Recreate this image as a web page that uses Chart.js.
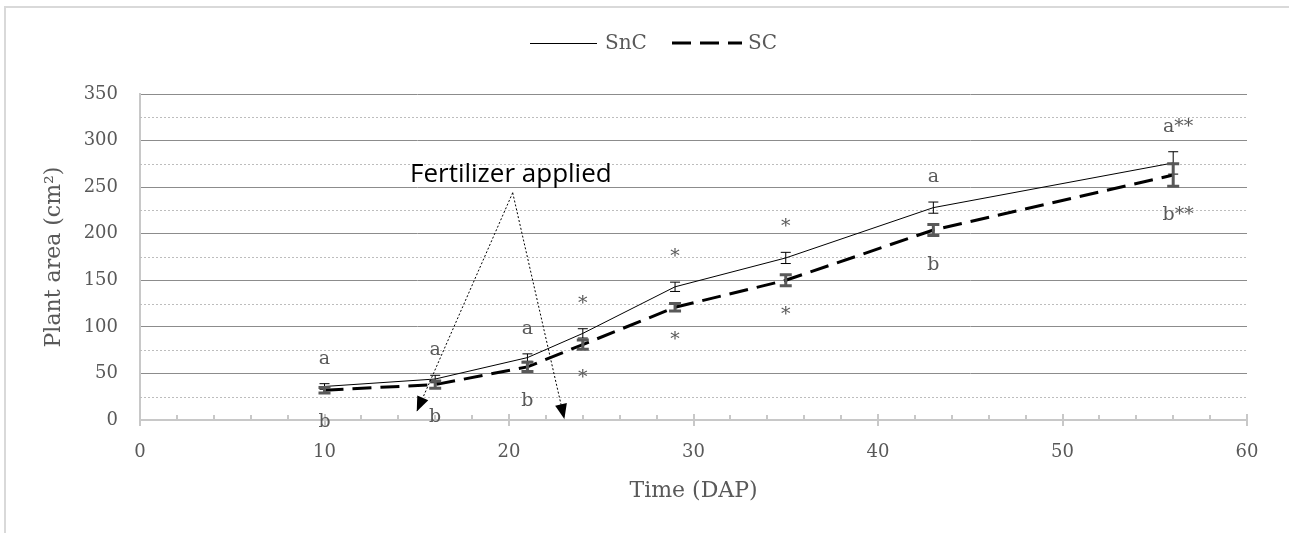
<!DOCTYPE html>
<html>
<head>
<meta charset="utf-8">
<script src="https://cdn.jsdelivr.net/npm/chart.js@4"></script>
<style>
html,body{margin:0;padding:0;background:#fff;overflow:hidden;}
#wrap{position:relative;width:1289px;height:533px;overflow:hidden;}
#frame{position:absolute;left:4px;top:6px;width:1300px;height:540px;border-left:2px solid #d9d9d9;border-top:2px solid #d9d9d9;}
canvas{position:absolute;left:0;top:0;}
</style>
</head>
<body>
<div id="wrap"><div id="frame"></div><canvas id="c" width="1289" height="533"></canvas></div>
<script>
// days after planting
const days = [10, 16, 21, 24, 29, 35, 43, 56];
const snc = [36, 44, 67, 93, 143, 174, 228, 276];
const sc = [32, 38, 57, 81, 121, 150, 204, 263];
const sncErr = [3, 4, 4, 5, 5, 6, 6, 12];
const scErr = [3, 4, 5, 5, 4, 6, 6, 12];
const upperLabels = ['a', 'a', 'a', '*', '*', '*', 'a', 'a**'];
const lowerLabels = ['b', 'b', 'b', '*', '*', '*', 'b', 'b**'];
const minorGrid = [25, 75, 125, 175, 225, 275, 325];

// fertilizer note: text spot, apex of the arrows, arrow tips (data units)
const fertText = 'Fertilizer applied';
const fertTextAt = [20.1, 263];
const fertApex = [20.2, 244];
const fertTips = [[15.0, 9], [23.0, 1]];

const serif = '"DejaVu Serif", Georgia, serif';
const grey = '#595959';

function arrowHead(ctx, x0, y0, x1, y1) {
  const ang = Math.atan2(y1 - y0, x1 - x0);
  const len = 15, half = 6;
  ctx.beginPath();
  ctx.moveTo(x1, y1);
  ctx.lineTo(x1 - len * Math.cos(ang) + half * Math.sin(ang), y1 - len * Math.sin(ang) - half * Math.cos(ang));
  ctx.lineTo(x1 - len * Math.cos(ang) - half * Math.sin(ang), y1 - len * Math.sin(ang) + half * Math.cos(ang));
  ctx.closePath();
  ctx.fill();
}

const extras = {
  id: 'extras',
  beforeDatasetsDraw(chart) {
    const {ctx, chartArea: a, scales: {x, y}} = chart;
    ctx.save();
    ctx.strokeStyle = '#bdbdbd';
    ctx.lineWidth = 1;
    ctx.setLineDash([2, 2]);
    minorGrid.forEach(v => {
      const py = Math.round(y.getPixelForValue(v)) + 0.5;
      ctx.beginPath(); ctx.moveTo(a.left, py); ctx.lineTo(a.right, py); ctx.stroke();
    });
    ctx.setLineDash([]);
    // x tick marks
    ctx.strokeStyle = '#c8c8c8';
    ctx.lineWidth = 2;
    for (let v = 0; v <= 60; v += 2) {
      const px = Math.round(x.getPixelForValue(v));
      ctx.beginPath();
      if (v % 10 === 0) { ctx.moveTo(px, a.bottom - 6); ctx.lineTo(px, a.bottom + 6); }
      else { ctx.moveTo(px, a.bottom - 5); ctx.lineTo(px, a.bottom); }
      ctx.stroke();
    }
    ctx.restore();
  },
  afterDatasetsDraw(chart) {
    const {ctx, scales: {x, y}} = chart;
    ctx.save();
    // error bars
    days.forEach((d, i) => {
      const px = x.getPixelForValue(d);
      ctx.strokeStyle = '#000'; ctx.lineWidth = 1;
      let t = y.getPixelForValue(snc[i] + sncErr[i]), b = y.getPixelForValue(snc[i] - sncErr[i]);
      ctx.beginPath();
      ctx.moveTo(px, t); ctx.lineTo(px, b);
      ctx.moveTo(px - 5, t); ctx.lineTo(px + 5, t);
      ctx.moveTo(px - 5, b); ctx.lineTo(px + 5, b);
      ctx.stroke();
      ctx.strokeStyle = grey; ctx.lineWidth = 3;
      t = y.getPixelForValue(sc[i] + scErr[i]); b = y.getPixelForValue(sc[i] - scErr[i]);
      ctx.beginPath();
      ctx.moveTo(px, t); ctx.lineTo(px, b);
      ctx.moveTo(px - 6, t); ctx.lineTo(px + 6, t);
      ctx.moveTo(px - 6, b); ctx.lineTo(px + 6, b);
      ctx.stroke();
    });
    // letters
    ctx.fillStyle = grey;
    ctx.font = '19px ' + serif;
    ctx.textAlign = 'center';
    ctx.textBaseline = 'middle';
    days.forEach((d, i) => {
      const px = x.getPixelForValue(d);
      ctx.fillText(upperLabels[i], px + (upperLabels[i].length > 1 ? 5 : 0), y.getPixelForValue(snc[i] + sncErr[i]) - 25);
      ctx.fillText(lowerLabels[i], px + (lowerLabels[i].length > 1 ? 5 : 0), y.getPixelForValue(sc[i] - scErr[i]) + 29);
    });
    // fertilizer arrows
    const ax = x.getPixelForValue(fertApex[0]), ay = y.getPixelForValue(fertApex[1]);
    ctx.strokeStyle = '#000'; ctx.fillStyle = '#000'; ctx.lineWidth = 1;
    fertTips.forEach(tp => {
      const tx = x.getPixelForValue(tp[0]), ty = y.getPixelForValue(tp[1]);
      ctx.setLineDash([2, 2]);
      ctx.beginPath(); ctx.moveTo(ax, ay); ctx.lineTo(tx, ty); ctx.stroke();
      ctx.setLineDash([]);
      arrowHead(ctx, ax, ay, tx, ty);
    });
    ctx.font = '26px "Open Sans", Lato, sans-serif';
    ctx.fillText(fertText, x.getPixelForValue(fertTextAt[0]), y.getPixelForValue(fertTextAt[1]));
    ctx.restore();
  },
  afterDraw(chart) {
    // legend
    const {ctx} = chart;
    ctx.save();
    ctx.strokeStyle = '#000';
    ctx.lineWidth = 1;
    ctx.beginPath(); ctx.moveTo(530, 43.5); ctx.lineTo(597, 43.5); ctx.stroke();
    ctx.lineWidth = 3;
    ctx.setLineDash([19, 9]);
    ctx.beginPath(); ctx.moveTo(672, 43); ctx.lineTo(742, 43); ctx.stroke();
    ctx.setLineDash([]);
    ctx.fillStyle = grey;
    ctx.font = '20px ' + serif;
    ctx.textBaseline = 'middle';
    ctx.fillText(chart.data.datasets[0].label, 605, 44);
    ctx.fillText(chart.data.datasets[1].label, 748, 44);
    ctx.restore();
  }
};

new Chart(document.getElementById('c'), {
  type: 'line',
  data: {
    datasets: [
      {label: 'SnC', data: days.map((d, i) => ({x: d, y: snc[i]})), borderColor: '#000', borderWidth: 1, pointRadius: 0, tension: 0},
      {label: 'SC', data: days.map((d, i) => ({x: d, y: sc[i]})), borderColor: '#000', borderWidth: 3, borderDash: [19, 9], pointRadius: 0, tension: 0}
    ]
  },
  options: {
    responsive: false,
    animation: false,
    layout: {padding: {top: 94, right: 42, bottom: 27, left: 0}},
    plugins: {legend: {display: false}, tooltip: {enabled: false}},
    scales: {
      x: {
        type: 'linear', min: 0, max: 60,
        ticks: {stepSize: 10, padding: 22, color: grey, font: {family: serif, size: 18}},
        grid: {display: false, drawTicks: false},
        border: {color: '#c8c8c8', width: 2},
        title: {display: true, text: 'Time (DAP)', color: grey, font: {family: serif, size: 22}, padding: {top: 2, bottom: 2}},
        afterFit(s) { s.height = 86; }
      },
      y: {
        min: 0, max: 350,
        ticks: {stepSize: 50, padding: 22, color: grey, font: {family: serif, size: 18}},
        grid: {drawTicks: false, color: c => c.tick.value === 0 ? 'rgba(0,0,0,0)' : '#8c8c8c'},
        border: {color: '#c8c8c8', width: 2},
        title: {display: true, text: 'Plant area (cm²)', color: grey, font: {family: serif, size: 22}, padding: {top: 41, bottom: 10}},
        afterFit(s) { s.width = 140; }
      }
    }
  },
  plugins: [extras]
});
</script>
</body>
</html>
